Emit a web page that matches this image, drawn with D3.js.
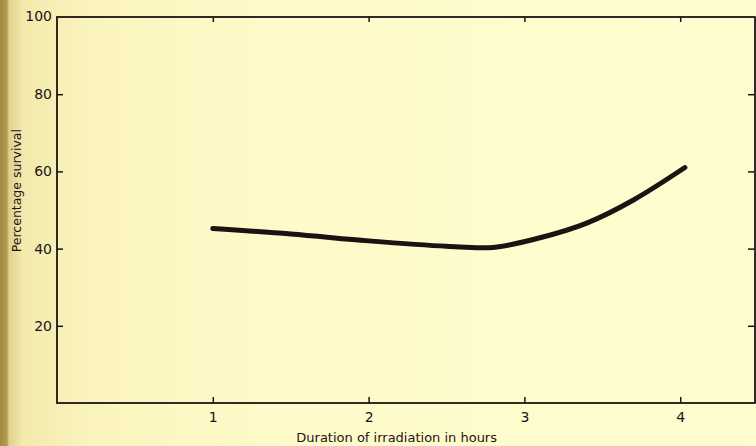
<!DOCTYPE html>
<html>
<head>
<meta charset="utf-8">
<script src="https://cdn.jsdelivr.net/npm/d3@7"></script>
<style>
  body { margin: 0; padding: 0; }
  svg { display: block; }
  text { font-family: "DejaVu Sans", sans-serif; fill: #1a1414; }
</style>
</head>
<body>
<script>
// data
var hours    = [1.0, 1.5, 2.0, 2.5, 2.8, 3.1, 3.4, 3.7, 4.03];
var survival = [45.2, 43.8, 42.0, 40.6, 40.3, 42.8, 46.6, 52.6, 61.0];
var xTicks = [1, 2, 3, 4];
var yTicks = [20, 40, 60, 80];

var W = 756, H = 446;
var margin = {top: 17, right: 1, bottom: 43, left: 57},
    width = W - margin.left - margin.right,
    height = H - margin.top - margin.bottom;

var x = d3.scaleLinear().domain([0, 4.48]).range([0, width]);
var y = d3.scaleLinear().domain([0, 100]).range([height, 0]);

var root = d3.select("body").append("svg")
    .attr("width", W)
    .attr("height", H);

// paper background with darker strip at the left edge
var grad = root.append("defs").append("linearGradient")
    .attr("id", "paper")
    .attr("x1", "0").attr("x2", "1").attr("y1", "0").attr("y2", "0");
[[0, "#a28c44"], [0.009, "#b09c50"], [0.012, "#e0d190"], [0.03, "#f3e9ac"],
 [0.12, "#fbf4be"], [0.35, "#fefac9"], [1, "#fffdd0"]].forEach(function(s) {
    grad.append("stop").attr("offset", s[0]).attr("stop-color", s[1]);
});
root.append("rect").attr("width", W).attr("height", H).attr("fill", "url(#paper)");

var svg = root.append("g")
    .attr("transform", "translate(" + margin.left + "," + margin.top + ")");

// frame
svg.append("rect")
    .attr("width", width).attr("height", height)
    .attr("fill", "none")
    .attr("stroke", "#1a1414")
    .attr("stroke-width", 1.8);

function styleAxis(g) {
    g.select(".domain").remove();
    g.selectAll("line").attr("stroke", "#1a1414").attr("stroke-width", 1.5);
    g.selectAll("text").style("font-size", "14px").attr("fill", "#1a1414");
}

// bottom axis
svg.append("g")
    .attr("transform", "translate(0," + height + ")")
    .call(d3.axisBottom(x).tickValues(xTicks).tickFormat(d3.format("d"))
        .tickSizeInner(-6).tickSizeOuter(0).tickPadding(9))
    .call(styleAxis);

// top axis (ticks only)
svg.append("g")
    .call(d3.axisTop(x).tickValues(xTicks).tickSizeInner(-5).tickSizeOuter(0).tickFormat(""))
    .call(styleAxis);

// left axis
svg.append("g")
    .call(d3.axisLeft(y).tickValues(yTicks).tickSizeInner(-6).tickSizeOuter(0).tickPadding(5))
    .call(styleAxis);

// "100" at the corner, no tick
svg.append("text")
    .attr("x", -5)
    .attr("y", y(100))
    .attr("dy", "0.32em")
    .attr("text-anchor", "end")
    .style("font-size", "14px")
    .text("100");

// right axis (ticks only)
svg.append("g")
    .attr("transform", "translate(" + width + ",0)")
    .call(d3.axisRight(y).tickValues(yTicks).tickSizeInner(-7).tickSizeOuter(0).tickFormat(""))
    .call(styleAxis);

// the curve
var line = d3.line()
    .x(function(d, i) { return x(hours[i]); })
    .y(function(d) { return y(d); })
    .curve(d3.curveCatmullRom.alpha(0.5));

svg.append("path")
    .datum(survival)
    .attr("fill", "none")
    .attr("stroke", "#1c1212")
    .attr("stroke-width", 5)
    .attr("stroke-linecap", "round")
    .attr("d", line);

// axis titles
svg.append("text")
    .attr("x", x(2.18))
    .attr("y", height + 39)
    .attr("text-anchor", "middle")
    .style("font-size", "13px")
    .text("Duration of irradiation in hours");

svg.append("text")
    .attr("transform", "rotate(-90)")
    .attr("x", -(y(55)))
    .attr("y", -36)
    .attr("text-anchor", "middle")
    .style("font-size", "12.5px")
    .text("Percentage survival");
</script>
</body>
</html>
